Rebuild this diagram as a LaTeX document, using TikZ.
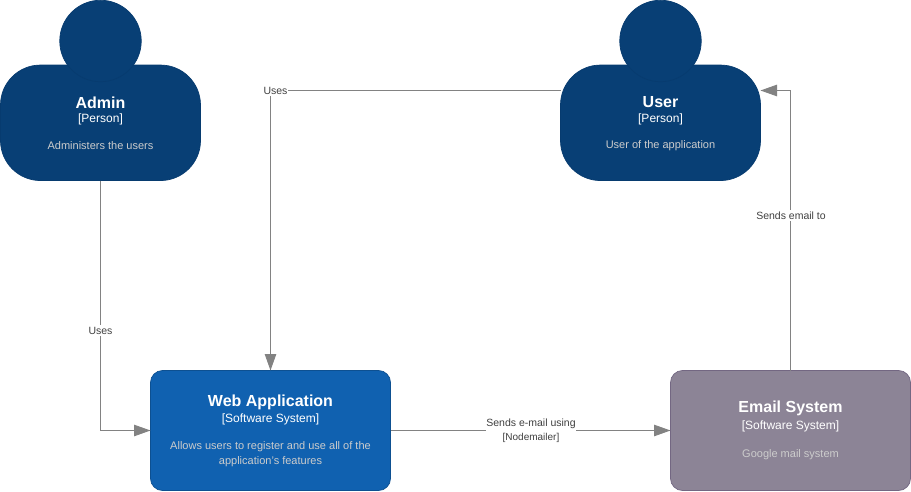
\documentclass[tikz,border=0pt]{standalone}
\usepackage{fontspec}
\setmainfont{Liberation Sans}
\usetikzlibrary{arrows.meta}
\definecolor{personfill}{HTML}{083F75}
\definecolor{personline}{HTML}{073B6F}
\definecolor{webfill}{HTML}{1061B0}
\definecolor{webline}{HTML}{0D5091}
\definecolor{mailfill}{HTML}{8C8496}
\definecolor{mailline}{HTML}{736782}
\definecolor{desc}{HTML}{CCCCCC}
\definecolor{linkline}{HTML}{828282}
\definecolor{labeltext}{HTML}{404040}
\tikzset{
  x=1pt,y=-1pt,
  every node/.style={inner sep=0pt,outer sep=0pt},
  personbody/.style={draw=personline,fill=personfill,line width=0.7pt,rounded corners=40pt,minimum width=200pt,minimum height=115.5pt},
  personhead/.style={circle,draw=personline,fill=personfill,line width=0.7pt,minimum size=81.5pt},
  websys/.style={draw=webline,fill=webfill,line width=0.7pt,rounded corners=12pt,minimum width=240pt,minimum height=120pt},
  mailsys/.style={draw=mailline,fill=mailfill,line width=0.7pt,rounded corners=12pt,minimum width=240pt,minimum height=120pt},
  title/.style={text=white,font=\fontsize{16}{19}\selectfont\bfseries},
  kind/.style={text=white,font=\fontsize{12}{14}\selectfont},
  about/.style={text=desc,align=center,font=\fontsize{11}{14.7}\selectfont},
  link/.style={draw=linkline,line width=0.9pt,-{Triangle[length=16.5pt,width=11.5pt,fill=linkline]}},
  linklabel/.style={fill=white,text=labeltext,align=center,inner ysep=1.5pt,inner xsep=0.5pt,font=\fontsize{10.5}{12}\selectfont},
}
\begin{document}
\begin{tikzpicture}
\useasboundingbox (0,0) rectangle (911,492);
\node[personbody] (admin) at (100.5,122.8) {};
\node[personhead] (adminhead) at (100.5,41) {};
\node[title] (admint) at (100.5,102.5) {Admin};
\node[kind] (admink) at (100.5,119.5) {[Person]};
\node[about] (admind) at (100.5,145.5) {Administers the users};
\node[personbody] (user) at (660.5,122.8) {};
\node[personhead] (userhead) at (660.5,41) {};
\node[title] (usert) at (660.5,102.5) {User};
\node[kind] (userk) at (660.5,119.5) {[Person]};
\node[about] (userd) at (660.5,145.5) {User of the application};
\node[websys] (web) at (270.5,430.5) {};
\node[title] (webt) at (270.5,402) {Web Application};
\node[kind] (webk) at (270.5,419) {[Software System]};
\node[about] (webd) at (270.5,454.5) {Allows users to register and use all of the\\application's features};
\node[mailsys] (mail) at (790.5,430.5) {};
\node[title] (mailt) at (790.5,408.5) {Email System};
\node[kind] (mailk) at (790.5,426) {[Software System]};
\node[about] (maild) at (790.5,454.5) {Google mail system};
\coordinate (userleft) at (560.5,90.5);
\coordinate (userright) at (760.5,90.5);
\draw[link] (admin.south) |- (web.west);
\draw[link] (userleft) -| (web.north);
\draw[link] (web.east) -- (mail.west);
\draw[link] (mail.north) |- (userright);
\node[linklabel] (l1) at (100.5,330.5) {Uses};
\node[linklabel] (l2) at (275.5,90.5) {Uses};
\node[linklabel,anchor=north] (l3) at (531,417.5) {Sends e-mail using\\[1.5pt]{\fontsize{10}{11}\selectfont [Nodemailer]}};
\node[linklabel] (l4) at (791,215.5) {Sends email to};
\end{tikzpicture}
\end{document}
